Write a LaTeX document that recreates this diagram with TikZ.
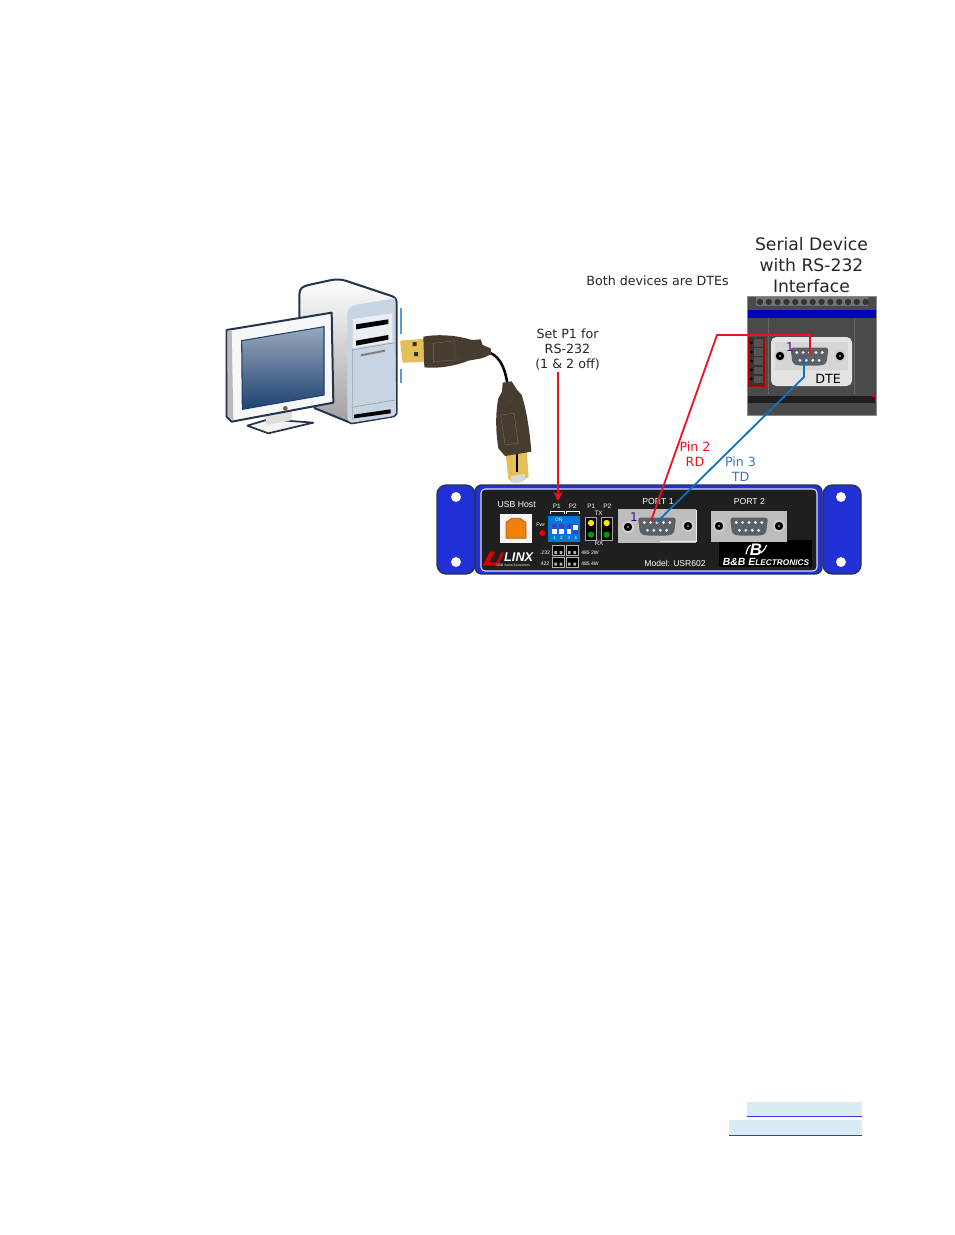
\documentclass[tikz,border=0pt]{standalone}
\usepackage{fontspec}
\setmainfont{DejaVu Sans}
\newfontfamily\panelfont{Liberation Sans}
\usetikzlibrary{arrows.meta}
\definecolor{earblue}{HTML}{2230D8}
\definecolor{outl}{HTML}{24344A}
\definecolor{plate}{HTML}{BDBDBD}
\definecolor{shell}{HTML}{5A5F68}
\definecolor{plug}{HTML}{463C30}
\definecolor{gold}{HTML}{E4BE58}
\definecolor{wirered}{HTML}{F01020}
\definecolor{wireblue}{HTML}{1070C0}
\definecolor{labblue}{HTML}{4472C4}
\definecolor{devbg}{HTML}{4A4A4A}
\definecolor{linkbg}{HTML}{DAECF2}
\definecolor{towerfront}{HTML}{C9D4E2}
\definecolor{screentop}{HTML}{9AA8BB}
\definecolor{screenbot}{HTML}{1D4272}
\tikzset{
 lab/.style={font=\fontsize{9.5}{11.25}\selectfont,text=black!85,inner sep=0pt,align=center},
 big/.style={font=\fontsize{12.9}{15.75}\selectfont,text=black!85,inner sep=0pt,align=center},
 pt/.style={font=\panelfont\fontsize{#1}{#1}\selectfont,text=white,inner sep=0pt},
 pt/.default=5,
 hole/.style={circle,fill=white,draw=none,minimum size=7.4pt,inner sep=0pt},
 wire/.style={line width=1.35pt,line join=round},
 zoomed/.style={x=0.25pt,y=-0.25pt},
}
% D-sub: centre x, centre y
\newcommand\dsubshape[2]{%
 \begin{scope}[shift={(#1,#2)}]
 \fill[shell,rounded corners=2.2pt] (-19,-9) -- (19,-9) -- (17,7) -- (12,9) -- (-12,9) -- (-17,7) -- cycle;
 \foreach \i in {-2,...,2}\fill[white!85!gray] (\i*6.4,-4) circle (1.6);
 \foreach \i in {-1.5,-0.5,0.5,1.5}\fill[white!85!gray] (\i*6.4,3.8) circle (1.6);
 \end{scope}}
\newcommand\screwhole[2]{\fill[plate!70!white] (#1,#2) circle (6);\fill[black] (#1,#2) circle (4.2);\fill[gray] (#1,#2) circle (1.3);}
\begin{document}
\begin{tikzpicture}[x=0.75pt,y=-0.75pt]
\useasboundingbox (0,0) rectangle (954,1235);
\fill[white] (0,0) rectangle (954,1235);

%% computer
\begin{scope}[shift={(215,270)},zoomed]
 \draw[outl,line width=1.5pt,top color=white,bottom color=gray!75,line join=round]
  (253,75) .. controls (253,55) and (262,50) .. (280,45) -- (350,30) .. controls (365,27) and (380,28) .. (395,33) -- (530,78) .. controls (540,82) and (545,88) .. (545,100)
  -- (545,425) .. controls (545,435) and (540,438) .. (530,440) -- (410,460) -- (300,415) -- (253,300) -- cycle;
 \fill[towerfront] (397,135) .. controls (397,118) and (405,108) .. (425,104) -- (540,85) -- (543,425) .. controls (543,435) and (535,438) .. (525,440) -- (412,458) .. controls (402,458) and (397,450) .. (397,440) -- cycle;
 \draw[towerfront!75!black,line width=0.5pt] (412,150) -- (412,450) (410,240) -- (540,218) (410,412) -- (540,390);
 \fill[towerfront!40!white] (412,147) -- (532,130) -- (532,215) -- (412,235) -- cycle;
 \fill[black] (423,163) -- (520,148) -- (520,162) -- (423,178) -- cycle;
 \fill[black] (423,212) -- (520,195) -- (520,209) -- (423,227) -- cycle;
 \fill[gray] (437,253) -- (510,239) -- (510,245) -- (437,259) -- cycle;
 \fill[black] (417,434) -- (527,418) -- (527,430) -- (417,445) -- cycle;
 % stand
 \draw[outl,line width=1.3pt,fill=white!90!gray,line join=round] (97,467) -- (160,448) -- (295,458) -- (160,490) -- cycle;
 \fill[gray!25] (150,430) -- (230,415) -- (232,450) -- (155,465) -- cycle;
 % monitor
 \draw[outl,line width=1.5pt,fill=white!94!gray,line join=round] (35,180) -- (350,128) -- (355,398) -- (50,455) -- (35,440) -- cycle;
 \fill[gray!55] (37,182) -- (50,180) -- (55,452) -- (38,438) -- cycle;
 \draw[screenbot,line width=0.8pt,top color=screentop,bottom color=screenbot] (80,212) -- (327,170) -- (327,375) -- (82,418) -- cycle;
 \fill[gray!80!black] (211,415) circle (7);
 % ticks
 \draw[wireblue!70!white,line width=0.9pt] (558,115) -- (558,193) (558,297) -- (558,338);
\end{scope}

%% USB cable
\begin{scope}[shift={(390,320)},zoomed]
 \draw[black,line width=1.9pt] (300,98) .. controls (335,115) and (345,150) .. (352,190);
 \fill[gold] (30,62) -- (106,56) -- (110,126) -- (38,128) -- cycle;
 \fill[plug!80!black] (68,66) rectangle (80,78) (72,96) rectangle (84,108);
 \fill[plug] (100,50) .. controls (140,42) and (200,45) .. (245,60) -- (272,58) -- (278,75) -- (302,85) -- (304,103) -- (275,115) -- (235,122) .. controls (190,140) and (140,146) .. (103,142) -- cycle;
 \fill[plug!80!black] (212,72) circle (2.5) (218,100) circle (2.5);
 \draw[plug!75!white,line width=0.3pt] (130,70) -- (195,62) -- (195,120) -- (130,125) -- cycle;
 \fill[gold] (347,402) -- (410,392) -- (416,470) -- (394,486) -- (368,488) -- (355,476) -- cycle;
 \fill[black] (377,400) rectangle (384,455);
 \fill[white!70!gray] (362,468) -- (405,462) -- (405,478) -- (385,490) -- (365,488) -- cycle;
 \fill[plug] (338,188) -- (365,184) -- (380,208) -- (395,225) .. controls (410,270) and (420,340) .. (424,395) -- (345,408) -- (325,385) .. controls (318,340) and (315,285) .. (325,235) -- (336,215) -- cycle;
 \fill[plug!80!black] (333,264) circle (2.5) (360,260) circle (2.5);
 \draw[plug!75!white,line width=0.3pt] (332,285) -- (372,280) -- (385,370) -- (345,375) -- cycle;
\end{scope}

%% panel
\draw[outl,line width=1pt,fill=earblue,rounded corners=7pt] (437,485) rectangle (475,574);
\draw[outl,line width=1pt,fill=earblue,rounded corners=7pt] (823,485) rectangle (861,574);
\draw[outl,line width=1pt,fill=earblue,rounded corners=5pt] (475,485) rectangle (822,574);
\draw[white!85!blue,line width=0.8pt,fill=black!88,rounded corners=3pt] (481,489) rectangle (817,571);
\node[hole] (holeA) at (456,497) {};
\node[hole] (holeB) at (456,562) {};
\node[hole] (holeC) at (841,497) {};
\node[hole] (holeD) at (841,562) {};

\begin{scope}[shift={(430,475)},zoomed]
 \node[pt=6.5] (usbhost) at (260,90) {USB Host};
 \fill[white!92!gray] (210,118) rectangle (305,205);
 \draw[orange!75!black,fill=orange!70!brown,line width=0.6pt] (228,142) -- (245,130) -- (270,130) -- (288,142) -- (288,190) -- (228,190) -- cycle;
 \fill[orange] (245,155) rectangle (272,175);
 \node[pt=3.8] (pwr) at (332,150) {Pwr};
 \fill[red!90!black] (337,174) circle (9);
 \node[pt=4.8] (p1a) at (380,95) {P1};
 \node[pt=4.8] (p2a) at (428,95) {P2};
 \draw[white,line width=0.4pt] (360,116) -- (360,108) -- (402,108) -- (402,116) (408,116) -- (408,108) -- (448,108) -- (448,116);
 \fill[blue!45!cyan!85!black] (355,122) rectangle (450,200);
 \node[pt=3.6] (on) at (386,134) {ON};
 \foreach \s/\t in {374/162,394/162,417/162,437/150}{
  \fill[gray!50!blue] (\s-7,148) rectangle (\s+7,178);
  \fill[white] (\s-7,\t) rectangle (\s+7,\t+15);}
 \node[pt=3.4] (n1) at (374,188) {1};
 \node[pt=3.4] (n2) at (394,188) {2};
 \node[pt=3.4] (n3) at (417,188) {3};
 \node[pt=3.4] (n4) at (437,188) {4};
 \node[pt=4.8] (p1b) at (484,95) {P1};
 \node[pt=4.8] (p2b) at (532,95) {P2};
 \node[pt=4.8] (tx) at (506,116) {TX};
 \node[pt=4.8] (rx) at (507,205) {RX};
 \draw[gray!70,line width=0.7pt,fill=black] (466,127) rectangle (500,195) (513,127) rectangle (547,195);
 \fill[yellow!90!orange] (483,144) circle (9.5) (530,144) circle (9.5);
 \fill[green!60!black] (483,179) circle (9.5) (530,179) circle (9.5);
 \foreach \a/\b in {367/212,408/212,367/247,408/247}{
  \draw[gray!60,line width=0.5pt,fill=black] (\a,\b) rectangle (\a+37,\b+29);
  \fill[gray!60] (\a+6,\b+16) rectangle (\a+14,\b+25) (\a+22,\b+16) rectangle (\a+30,\b+25);}
 \node[pt=3.8] (j232) at (345,232) {.232};
 \node[pt=3.8] (j422) at (345,265) {422};
 \node[pt=3.8] (j2w) at (480,232) {485 2W};
 \node[pt=3.8] (j4w) at (480,265) {485 4W};
 \fill[red!85!black] (158,272) -- (180,230) -- (196,230) -- (178,262) -- (200,262) -- (214,232) -- (222,232) -- (204,272) -- cycle;
 \node[pt,font=\panelfont\bfseries\itshape\fontsize{9.5}{9.5}\selectfont] (linx) at (266,247) {LINX};
 \node[pt=2.5] (linxsub) at (250,271) {USB Serial Converters};
 \node[pt=6.5] (port1) at (684,80) {PORT 1};
\end{scope}

\begin{scope}[shift={(640,475)},zoomed]
 \node[pt=6.5] (port2) at (328,80) {PORT 2};
 \node[pt=6.4] (model) at (105,264) {Model: USR602};
 \fill[black] (237,195) rectangle (516,275);
 \node[pt,font=\panelfont\bfseries\itshape\fontsize{12.5}{12.5}\selectfont] (bblogo) at (348,224) {B};
 \draw[white,line width=0.9pt] (318,238) .. controls (320,225) and (325,215) .. (332,210) (362,234) .. controls (372,226) and (378,218) .. (380,210);
 \node[pt,font=\panelfont\bfseries\itshape\fontsize{7.8}{8}\selectfont] (bbtext) at (378,260) {B\&B E\fontsize{6.2}{7}\selectfont LECTRONICS};
\end{scope}

% ports
\fill[plate] (618,509) -- (696,509) -- (696,543) -- (618,543) -- cycle;
\draw[white!85!gray,line width=0.6pt] (660,541) -- (696,541) -- (696,510);
\screwhole{628}{527}\screwhole{688}{526}
\dsubshape{657}{526.5}
\node[inner sep=0pt,text=violet!70!blue!90!black,font=\fontsize{9}{10}\selectfont] (oneA) at (634,517) {1};
\fill[plate] (711,511) rectangle (787,542);
\screwhole{719}{526}\screwhole{779}{526}
\dsubshape{749}{526.5}

%% serial device
\fill[devbg] (747,296) rectangle (876,415);
\draw[gray!90,line width=0.4pt] (747,296) rectangle (876,415);
\fill[black!55] (756,297) rectangle (868,306);
\foreach \i in {0,...,12}\fill[black!80] (760+\i*8.8,302) circle (3.1);
\fill[blue!75!black] (747.5,310) rectangle (875.5,317.5);
\draw[black!60,line width=0.4pt] (768,318) -- (768,394) (854,318) -- (854,394);
\fill[black!88] (748,396) -- (875,396) -- (875,403) -- (748,403) -- cycle;
\fill[red!80!black] (872,396) rectangle (875,397);
\draw[red!75!black,line width=0.45pt,fill=gray!40!black] (748,337) rectangle (764,386);
\foreach \i in {0,...,4}{\fill[gray!65!black] (754,339+\i*9.2) rectangle (763,346.5+\i*9.2);\fill[black] (751.3,343+\i*9) circle (1.5);}
\fill[white!78!gray,rounded corners=4pt] (771,337) rectangle (852,386);
\fill[white!68!gray] (775,342) rectangle (848,370);
\screwhole{780}{356}\screwhole{840}{356}
\dsubshape{809.5}{356.5}
\node[inner sep=0pt,text=violet!70!blue!90!black,font=\fontsize{9}{10}\selectfont] (oneB) at (790,347) {1};
\node[inner sep=0pt,text=black,font=\fontsize{9.5}{10}\selectfont] (dte) at (828,379) {DTE};

%% wires
\coordinate (rdA) at (651,521);
\coordinate (rdB) at (717,335);
\coordinate (rdC) at (810,335);
\coordinate (rdD) at (810,354);
\draw[wire,wirered] (rdA) -- (rdB) -- (rdC) -- (rdD);
\coordinate (tdA) at (657,522);
\coordinate (tdB) at (804,377);
\coordinate (tdC) at (804,358);
\draw[wire,wireblue] (tdA) -- (tdB) -- (tdC);

%% texts
\node[big] (title) at (811.5,265) {Serial Device\\with RS-232\\Interface};
\node[lab] (both) at (657.5,281) {Both devices are DTEs};
\node[lab] (setp) at (567.5,350) {Set P1 for\\RS-232\\(1 \& 2 off)};
\node[lab,text=wirered] (rd) at (695,454.5) {Pin 2\\RD};
\node[lab,text=labblue] (td) at (740.5,469.5) {Pin 3\\TD};
\coordinate (dip) at (558,501);
\draw[wire,wirered,-{Stealth[length=7pt,width=7pt]}] (setp.south -| dip) ++(0,1) -- (dip);

%% highlighted links
\fill[linkbg] (747,1102) rectangle (862,1116);
\draw[blue!80!white,line width=0.7pt] (747,1116.5) -- (862,1116.5);
\fill[linkbg] (729,1120) rectangle (862,1135);
\draw[blue!80!white,line width=0.7pt] (729,1135.5) -- (862,1135.5);
\end{tikzpicture}
\end{document}
